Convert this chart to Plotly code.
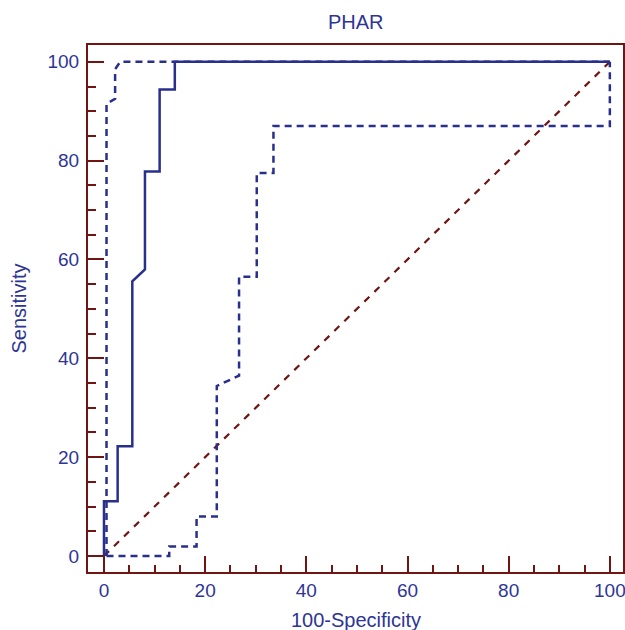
import plotly.graph_objects as go

# ROC curve (100-Specificity, Sensitivity)
roc_x = [0, 0, 2.7, 2.7, 5.6, 5.6, 8.1, 8.1, 11.0, 11.0, 14.0, 14.0, 100]
roc_y = [0, 11.1, 11.1, 22.2, 22.2, 55.6, 58.0, 77.8, 77.8, 94.4, 94.4, 100, 100]

# Upper confidence bound
upper_x = [0.5, 0.5, 2.2, 2.2, 3.2, 100]
upper_y = [0, 91.5, 92.5, 98.5, 100, 100]

# Lower confidence bound
lower_x = [0.5, 12.9, 12.9, 18.3, 18.3, 22.3, 22.3, 26.7, 26.7, 30.2, 30.2, 33.5, 33.5, 100, 100]
lower_y = [0, 0, 1.9, 1.9, 8.0, 8.0, 34.4, 36.5, 56.5, 56.5, 77.5, 77.5, 87.0, 87.0, 100]

# Reference diagonal
diag_x = [0, 100]
diag_y = [0, 100]

x_ticks = [0, 20, 40, 60, 80, 100]
y_ticks = [0, 20, 40, 60, 80, 100]

NAVY = "#28308c"
MAROON = "#701414"
TEXT = "#2e3596"
FONT = "Liberation Sans, Arial, sans-serif"

fig = go.Figure()
fig.add_trace(go.Scatter(x=diag_x, y=diag_y, mode="lines",
                         line=dict(color=MAROON, width=2.2, dash="7px,7px"), hoverinfo="skip"))
fig.add_trace(go.Scatter(x=upper_x, y=upper_y, mode="lines",
                         line=dict(color=NAVY, width=2.5, dash="7px,5px"), hoverinfo="skip"))
fig.add_trace(go.Scatter(x=lower_x, y=lower_y, mode="lines",
                         line=dict(color=NAVY, width=2.5, dash="7px,5px"), hoverinfo="skip"))
fig.add_trace(go.Scatter(x=roc_x, y=roc_y, mode="lines",
                         line=dict(color=NAVY, width=2.5), hoverinfo="skip"))

axis_common = dict(
    showgrid=False, zeroline=False, showline=True, mirror=True, automargin=False,
    linecolor=MAROON, linewidth=2, ticklabeloverflow="allow",
    ticks="inside", ticklen=16, tickwidth=2, tickcolor=MAROON,
    tickfont=dict(family=FONT, size=19, color=TEXT),
)

fig.update_layout(
    width=625, height=630,
    margin=dict(l=88, r=2, t=45, b=58),
    paper_bgcolor="white", plot_bgcolor="white",
    showlegend=False,
    xaxis=dict(range=[-3.16, 102.6], tickvals=x_ticks,
               minor=dict(dtick=5, ticks="inside", ticklen=7, tickwidth=2, tickcolor=MAROON),
               **axis_common),
    yaxis=dict(range=[-3.24, 103.4], tickvals=y_ticks, ticklabelstandoff=3,
               minor=dict(dtick=5, ticks="inside", ticklen=8, tickwidth=2, tickcolor=MAROON),
               **axis_common),
    annotations=[
        dict(text="PHAR", xref="paper", yref="paper", x=0.5, y=1, yshift=23,
             xanchor="center", yanchor="middle", showarrow=False,
             font=dict(family=FONT, size=20, color=TEXT)),
        dict(text="100-Specificity", xref="paper", yref="paper", x=0.5, y=0, yshift=-48,
             xanchor="center", yanchor="middle", showarrow=False,
             font=dict(family=FONT, size=20, color=TEXT)),
        dict(text="Sensitivity", xref="paper", yref="paper", x=0, y=0.5, xshift=-70,
             xanchor="center", yanchor="middle", showarrow=False, textangle=-90,
             font=dict(family=FONT, size=20, color=TEXT)),
    ],
)

fig.write_html(
    "out.html",
    config={"displayModeBar": False},
    post_script="document.body.style.margin='0';document.body.style.overflow='hidden';",
)
